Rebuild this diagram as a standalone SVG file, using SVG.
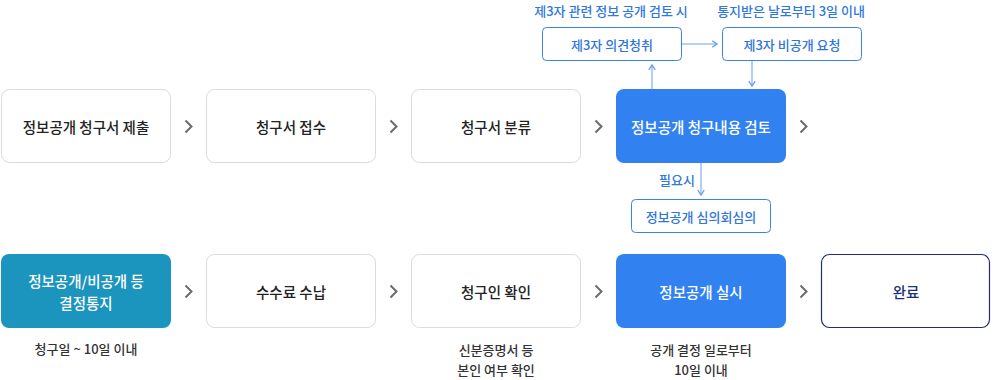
<svg xmlns="http://www.w3.org/2000/svg" width="1004" height="380" viewBox="0 0 1004 380">
<style>
text{font-family:"Noto Sans CJK KR","Noto Sans",sans-serif;text-anchor:middle;dominant-baseline:central}
.box{fill:#fff;stroke:#d9dbe0;stroke-width:1}
.t{font-size:14.5px;font-weight:500;fill:#222}
.tw{font-size:14.5px;font-weight:500;fill:#fff}
.sb{fill:#fff;stroke:#3a82ee;stroke-width:1}
.st{font-size:13px;font-weight:500;fill:#2f75dc}
.lab{font-size:13px;font-weight:500;fill:#2f78e0}
.note{font-size:13px;font-weight:500;fill:#333}
.chev{fill:none;stroke:#6b6b6b;stroke-width:2}
.ln{fill:none;stroke:#9ec2f6;stroke-width:1.6}
</style>
<defs>
<marker id="ah" viewBox="0 0 10 10" refX="8" refY="5" markerWidth="8" markerHeight="8" markerUnits="userSpaceOnUse" orient="auto">
<path d="M2,1 L8,5 L2,9" fill="none" stroke="#5f9cf0" stroke-width="1.6"/>
</marker>
</defs>
<g id="n1"><rect class="box" x="1.5" y="89.5" width="169" height="73" rx="8"/><text class="t" x="86" y="126">정보공개 청구서 제출</text></g>
<g id="n2"><rect class="box" x="206.5" y="89.5" width="169" height="73" rx="8"/><text class="t" x="291" y="126">청구서 접수</text></g>
<g id="n3"><rect class="box" x="411.5" y="89.5" width="169" height="73" rx="8"/><text class="t" x="496" y="126">청구서 분류</text></g>
<g id="n4"><rect x="616" y="89" width="170" height="74" rx="8" fill="#3182f0"/><text class="tw" x="701" y="126">정보공개 청구내용 검토</text></g>
<g id="n5"><rect class="sb" x="542.5" y="27.5" width="139" height="33" rx="4"/><text class="st" x="612" y="44">제3자 의견청취</text></g>
<g id="n6"><rect class="sb" x="722.5" y="27.5" width="139" height="33" rx="4"/><text class="st" x="792" y="44">제3자 비공개 요청</text></g>
<g id="n7"><rect class="sb" x="631.5" y="199.5" width="139" height="33" rx="4"/><text class="st" x="701" y="216">정보공개 심의회심의</text></g>
<g id="n8"><rect x="1" y="254" width="170" height="74" rx="8" fill="#1b95bd"/><text class="tw" x="86" y="280">정보공개/비공개 등</text><text class="tw" x="86" y="302">결정통지</text></g>
<g id="n9"><rect class="box" x="206.5" y="254.5" width="169" height="73" rx="8"/><text class="t" x="291" y="291">수수료 수납</text></g>
<g id="n10"><rect class="box" x="411.5" y="254.5" width="169" height="73" rx="8"/><text class="t" x="496" y="291">청구인 확인</text></g>
<g id="n11"><rect x="616" y="254" width="170" height="74" rx="8" fill="#3182f0"/><text class="tw" x="701" y="291">정보공개 실시</text></g>
<g id="n12"><rect x="821.5" y="254.5" width="168" height="73" rx="8" fill="#fff" stroke="#1e2f78" stroke-width="1.2"/><text class="t" x="906" y="291" style="fill:#1e2f78">완료</text></g>
<g id="labels">
<text class="lab" x="611" y="10">제3자 관련 정보 공개 검토 시</text>
<text class="lab" x="791" y="10">통지받은 날로부터 3일 이내</text>
<text class="lab" x="677" y="179">필요시</text>
<text class="note" x="86" y="348">청구일 ~ 10일 이내</text>
<text class="note" x="496" y="349">신분증명서 등</text>
<text class="note" x="496" y="369">본인 여부 확인</text>
<text class="note" x="701" y="349">공개 결정 일로부터</text>
<text class="note" x="701" y="369">10일 이내</text>
</g>
<g id="connectors">
<path class="chev" d="M185.5,120.5 L191.5,126.5 L185.5,132.5"/>
<path class="chev" d="M390.5,120.5 L396.5,126.5 L390.5,132.5"/>
<path class="chev" d="M595.5,120.5 L601.5,126.5 L595.5,132.5"/>
<path class="chev" d="M800.5,120.5 L806.5,126.5 L800.5,132.5"/>
<path class="chev" d="M185.5,285.5 L191.5,291.5 L185.5,297.5"/>
<path class="chev" d="M390.5,285.5 L396.5,291.5 L390.5,297.5"/>
<path class="chev" d="M595.5,285.5 L601.5,291.5 L595.5,297.5"/>
<path class="chev" d="M800.5,285.5 L806.5,291.5 L800.5,297.5"/>
<path class="ln" d="M652,89 V65" marker-end="url(#ah)"/>
<path class="ln" d="M682,44 H717" marker-end="url(#ah)"/>
<path class="ln" d="M752,61 V86" marker-end="url(#ah)"/>
<path class="ln" d="M701,163 V195" marker-end="url(#ah)"/>
</g>
</svg>
